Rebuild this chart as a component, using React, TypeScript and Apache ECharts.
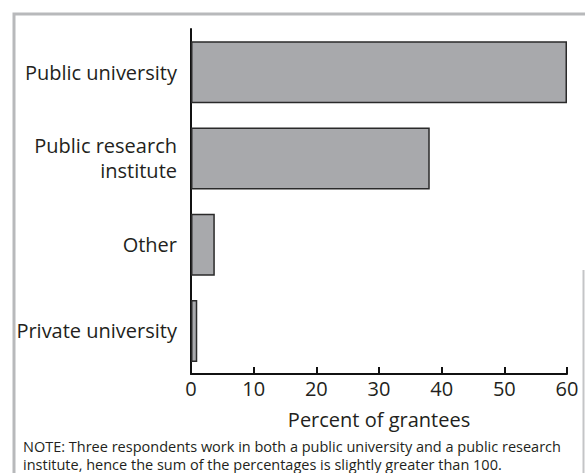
import React, { useEffect, useRef } from "react";
import * as echarts from "echarts";

const categories = ["Public university", "Public research\ninstitute", "Other", "Private university"];
const values = [60, 38.1, 3.8, 1.0];
const xTicks = [0, 10, 20, 30, 40, 50, 60];
const xTitle = "Percent of grantees";
const noteLines = [
  "NOTE: Three respondents work in both a public university and a public research",
  "institute, hence the sum of the percentages is slightly greater than 100.",
];

const FONT = "'Open Sans', 'Noto Sans', sans-serif";
const TXT = "#231f20";

export default function App() {
  const ref = useRef<HTMLDivElement>(null);
  useEffect(() => {
    if (!ref.current) return;
    const chart = echarts.init(ref.current, null, { renderer: "svg" });
    chart.setOption({
      animation: false,
      backgroundColor: "#ffffff",
      grid: { left: 191, right: 18, top: 29, bottom: 99, containLabel: false },
      xAxis: {
        type: "value",
        min: xTicks[0],
        max: xTicks[xTicks.length - 1],
        interval: 10,
        splitLine: { show: false },
        axisLine: { show: true, lineStyle: { color: "#111", width: 2 } },
        axisTick: { show: true, inside: true, length: 7, lineStyle: { color: "#111", width: 2 } },
        axisLabel: { color: TXT, fontFamily: FONT, fontSize: 20, margin: 4 },
        name: xTitle,
        nameLocation: "middle",
        nameGap: 35,
        nameTextStyle: { color: TXT, fontFamily: FONT, fontSize: 20 },
      },
      yAxis: {
        type: "category",
        data: categories,
        inverse: true,
        axisLine: { show: true, lineStyle: { color: "#111", width: 2 } },
        axisTick: { show: false },
        axisLabel: {
          color: TXT,
          fontFamily: FONT,
          fontSize: 20,
          margin: 14,
          align: "right",
          lineHeight: 25,
        },
      },
      series: [
        {
          type: "bar",
          data: values,
          barWidth: 62,
          itemStyle: { color: "#a8a9ac", borderColor: "#2a2a2a", borderWidth: 1.5 },
        },
      ],
      graphic: [
        {
          type: "polyline",
          shape: { points: [[14, 473], [14, 14], [585, 14]] },
          style: { stroke: "#b8b9bb", lineWidth: 3, fill: null },
        },
        {
          type: "line",
          shape: { x1: 583.5, y1: 270, x2: 583.5, y2: 473 },
          style: { stroke: "#c4c5c7", lineWidth: 2 },
        },
        {
          type: "text",
          left: 23,
          top: 437,
          style: {
            text: noteLines.join("\n"),
            font: `14.5px ${FONT}`,
            fill: TXT,
            lineHeight: 18,
          },
        },
      ],
    });
    return () => chart.dispose();
  }, []);
  return <div ref={ref} style={{ width: 585, height: 473, position: "absolute", left: 0, top: 0 }} />;
}
